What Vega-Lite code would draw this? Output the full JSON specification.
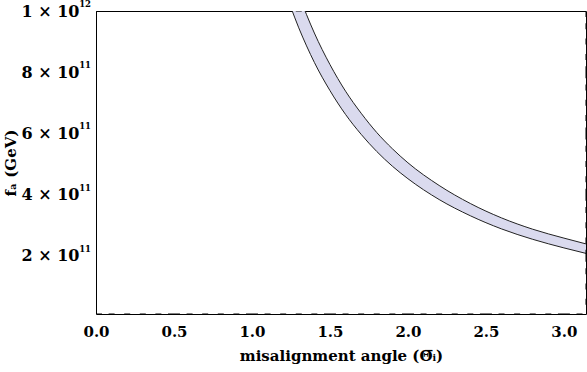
{
  "$schema": "https://vega.github.io/schema/vega-lite/v6.json",
  "width": 490,
  "height": 303,
  "autosize": {"type": "none"},
  "padding": {"left": 96, "top": 11, "right": 1, "bottom": 58},
  "background": "white",
  "config": {
    "view": {"stroke": "black", "strokeWidth": 1},
    "axis": {
      "labelFont": "DejaVu Serif",
      "labelFontWeight": "bold",
      "labelFontSize": 15,
      "labelColor": "black",
      "titleFont": "DejaVu Serif",
      "titleFontWeight": "bold",
      "titleFontSize": 15,
      "titleColor": "black",
      "domain": false,
      "grid": false,
      "ticks": false,
      "labelOverlap": false,
      "labelFlush": false
    }
  },
  "datasets": {
    "band": [
      {"theta": 1.25, "lo": 1.011e12, "hi": 1.127e12},
      {"theta": 1.3, "lo": 9.45e11, "hi": 1.054e12},
      {"theta": 1.35, "lo": 8.86e11, "hi": 9.88e11},
      {"theta": 1.4, "lo": 8.32e11, "hi": 9.28e11},
      {"theta": 1.5, "lo": 7.40e11, "hi": 8.25e11},
      {"theta": 1.6, "lo": 6.62e11, "hi": 7.38e11},
      {"theta": 1.7, "lo": 5.97e11, "hi": 6.66e11},
      {"theta": 1.8, "lo": 5.41e11, "hi": 6.03e11},
      {"theta": 1.9, "lo": 4.93e11, "hi": 5.50e11},
      {"theta": 2.0, "lo": 4.52e11, "hi": 5.04e11},
      {"theta": 2.2, "lo": 3.84e11, "hi": 4.30e11},
      {"theta": 2.4, "lo": 3.31e11, "hi": 3.71e11},
      {"theta": 2.6, "lo": 2.88e11, "hi": 3.24e11},
      {"theta": 2.8, "lo": 2.54e11, "hi": 2.87e11},
      {"theta": 3.0, "lo": 2.26e11, "hi": 2.58e11},
      {"theta": 3.1416, "lo": 2.08e11, "hi": 2.39e11}
    ],
    "exps": [
      {"v": 2e11, "e": "11"},
      {"v": 4e11, "e": "11"},
      {"v": 6e11, "e": "11"},
      {"v": 8e11, "e": "11"},
      {"v": 1e12, "e": "12"}
    ],
    "xticks": [
      {"t": 0.0}, {"t": 0.1}, {"t": 0.2}, {"t": 0.3}, {"t": 0.4}, {"t": 0.5}, {"t": 0.6}, {"t": 0.7}, {"t": 0.8}, {"t": 0.9},
      {"t": 1.0}, {"t": 1.1}, {"t": 1.2}, {"t": 1.3}, {"t": 1.4}, {"t": 1.5}, {"t": 1.6}, {"t": 1.7}, {"t": 1.8}, {"t": 1.9},
      {"t": 2.0}, {"t": 2.1}, {"t": 2.2}, {"t": 2.3}, {"t": 2.4}, {"t": 2.5}, {"t": 2.6}, {"t": 2.7}, {"t": 2.8}, {"t": 2.9},
      {"t": 3.0}, {"t": 3.1}
    ],
    "yticks": [
      {"t": 5e10}, {"t": 1e11}, {"t": 1.5e11}, {"t": 2e11}, {"t": 2.5e11}, {"t": 3e11}, {"t": 3.5e11}, {"t": 4e11},
      {"t": 4.5e11}, {"t": 5e11}, {"t": 5.5e11}, {"t": 6e11}, {"t": 6.5e11}, {"t": 7e11}, {"t": 7.5e11}, {"t": 8e11},
      {"t": 8.5e11}, {"t": 9e11}, {"t": 9.5e11}, {"t": 1e12}
    ]
  },
  "layer": [
    {
      "data": {"name": "band"},
      "mark": {"type": "area", "color": "#dadaee", "interpolate": "monotone", "clip": true},
      "encoding": {
        "x": {
          "field": "theta", "type": "quantitative",
          "scale": {"domain": [0, 3.1416], "nice": false, "zero": false},
          "axis": {
            "orient": "bottom",
            "title": "misalignment angle (Θ̅ᵢ)",
            "titlePadding": 9,
            "values": [0, 0.5, 1.0, 1.5, 2.0, 2.5, 3.0],
            "format": ".1f",
            "labelPadding": 10
          }
        },
        "y": {
          "field": "lo", "type": "quantitative",
          "scale": {"domain": [1e10, 1e12], "nice": false, "zero": false},
          "axis": {
            "orient": "left",
            "title": "fₐ (GeV)",
            "titleFontSize": 15,
            "titlePadding": 3,
            "labelFontSize": 16,
            "values": [2e11, 4e11, 6e11, 8e11, 1e12],
            "labelExpr": "(datum.value === 1e12 ? '1' : '' + (datum.value/1e11)) + ' × 10'",
            "labelPadding": 17
          }
        },
        "y2": {"field": "hi"}
      }
    },
    {
      "data": {"name": "band"},
      "mark": {"type": "line", "color": "#222222", "strokeWidth": 1, "interpolate": "monotone", "clip": true},
      "encoding": {
        "x": {"field": "theta", "type": "quantitative"},
        "y": {"field": "lo", "type": "quantitative"}
      }
    },
    {
      "data": {"name": "band"},
      "mark": {"type": "line", "color": "#222222", "strokeWidth": 1, "interpolate": "monotone", "clip": true},
      "encoding": {
        "x": {"field": "theta", "type": "quantitative"},
        "y": {"field": "hi", "type": "quantitative"}
      }
    },
    {
      "data": {"name": "xticks"},
      "mark": {"type": "tick", "orient": "horizontal", "color": "black", "thickness": 1, "opacity": 1, "clip": true},
      "encoding": {
        "x": {"field": "t", "type": "quantitative"},
        "y": {"datum": 1e10, "type": "quantitative"},
        "size": {"condition": {"test": "abs(datum.t*2 - round(datum.t*2)) < 0.001", "value": 12}, "value": 6}
      }
    },
    {
      "data": {"name": "xticks"},
      "mark": {"type": "tick", "orient": "horizontal", "color": "black", "thickness": 1, "opacity": 1, "clip": true},
      "encoding": {
        "x": {"field": "t", "type": "quantitative"},
        "y": {"datum": 1e12, "type": "quantitative"},
        "size": {"condition": {"test": "abs(datum.t*2 - round(datum.t*2)) < 0.001", "value": 12}, "value": 6}
      }
    },
    {
      "data": {"name": "yticks"},
      "mark": {"type": "tick", "orient": "vertical", "color": "black", "thickness": 1, "opacity": 1, "clip": true},
      "encoding": {
        "y": {"field": "t", "type": "quantitative"},
        "x": {"datum": 0, "type": "quantitative"},
        "size": {"condition": {"test": "datum.t % 2e11 === 0", "value": 12}, "value": 6}
      }
    },
    {
      "data": {"name": "yticks"},
      "mark": {"type": "tick", "orient": "vertical", "color": "black", "thickness": 1, "opacity": 1, "clip": true},
      "encoding": {
        "y": {"field": "t", "type": "quantitative"},
        "x": {"datum": 3.1416, "type": "quantitative"},
        "size": {"condition": {"test": "datum.t % 2e11 === 0", "value": 12}, "value": 6}
      }
    },
    {
      "data": {"name": "exps"},
      "mark": {"type": "text", "font": "DejaVu Serif", "fontWeight": "bold", "fontSize": 8.5, "align": "right", "baseline": "middle", "dx": -5, "dy": -7, "color": "black"},
      "encoding": {
        "x": {"datum": 0, "type": "quantitative"},
        "y": {"field": "v", "type": "quantitative"},
        "text": {"field": "e"}
      }
    }
  ]
}
